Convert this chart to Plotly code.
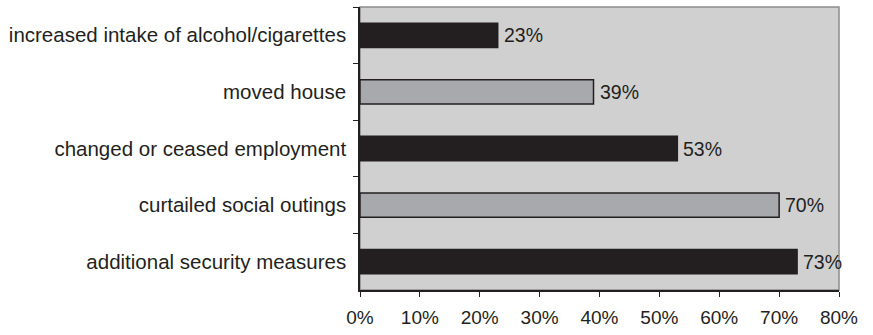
import plotly.graph_objects as go

# Reported behavioural changes (share of respondents)
categories = [
    "increased intake of alcohol/cigarettes",
    "moved house",
    "changed or ceased employment",
    "curtailed social outings",
    "additional security measures",
]
values = [23, 39, 53, 70, 73]
bar_colors = ["#231f20", "#a7a9ac", "#231f20", "#a7a9ac", "#231f20"]
x_ticks = [0, 10, 20, 30, 40, 50, 60, 70, 80]
x_tick_labels = [f"{v}%" for v in x_ticks]

font_family = "Liberation Sans, Arial, sans-serif"

fig = go.Figure(
    go.Bar(
        x=values,
        y=categories,
        orientation="h",
        width=0.43,
        marker=dict(color=bar_colors, line=dict(color="#231f20", width=1.5)),
        hoverinfo="x+y",
    )
)

# Value labels just past the end of each bar
value_labels = [
    dict(x=v, y=c, xref="x", yref="y", text=f"{v}%", showarrow=False,
         xanchor="left", yanchor="middle", xshift=4,
         font=dict(family=font_family, size=19.5, color="#231f20"))
    for c, v in zip(categories, values)
]

fig.update_layout(
    width=873,
    height=335,
    margin=dict(l=360, r=34, t=7, b=38),
    paper_bgcolor="white",
    plot_bgcolor="#d0d0d0",
    showlegend=False,
    font=dict(family=font_family, size=19, color="#231f20"),
    annotations=value_labels,
    shapes=[
        dict(type="rect", xref="paper", yref="paper", x0=0, x1=1, y0=0, y1=1,
             line=dict(color="#8c8c8c", width=1.5), fillcolor="rgba(0,0,0,0)", layer="below"),
    ],
)

fig.update_xaxes(
    range=[0, 80],
    tickvals=x_ticks,
    ticktext=x_tick_labels,
    showgrid=False,
    zeroline=False,
    showline=True,
    linecolor="#231f20",
    linewidth=1.5,
    ticks="outside",
    ticklen=5,
    tickcolor="#231f20",
    tickfont=dict(size=19),
    ticklabelstandoff=4,
    fixedrange=True,
)

fig.update_yaxes(
    categoryorder="array",
    categoryarray=categories,
    autorange="reversed",
    showgrid=False,
    showline=True,
    linecolor="#231f20",
    linewidth=1.5,
    ticks="outside",
    tickson="boundaries",
    ticklen=5,
    tickcolor="#231f20",
    tickfont=dict(size=20.5),
    ticklabelstandoff=8,
    fixedrange=True,
)

fig.write_html("out.html")
